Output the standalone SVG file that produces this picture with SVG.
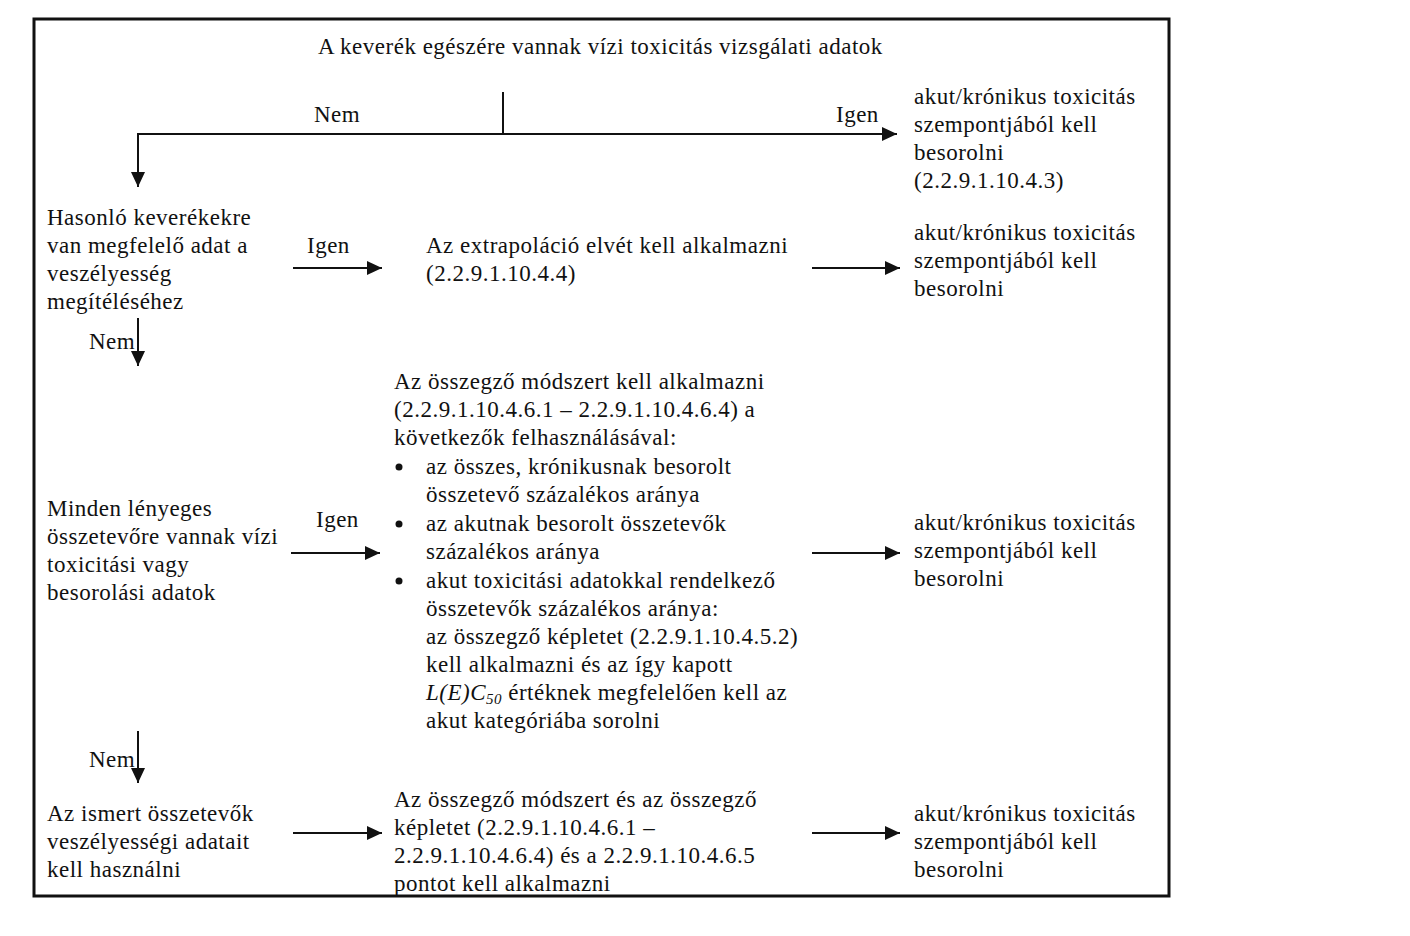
<svg xmlns="http://www.w3.org/2000/svg" width="1410" height="936" viewBox="0 0 1410 936">
<style>
text{font-family:"Liberation Serif","Times New Roman",serif;font-size:23px;letter-spacing:0.5px;fill:#111;}
.ln{stroke:#111;stroke-width:2;fill:none;}
.ar{stroke:#111;stroke-width:2;fill:none;marker-end:url(#ah);}
</style>
<defs>
<marker id="ah" markerWidth="9" markerHeight="8" refX="7.5" refY="3.5" orient="auto" markerUnits="strokeWidth">
<path d="M0,0 L7.5,3.5 L0,7 Z" fill="#111"/>
</marker>
</defs>
<rect x="34" y="19" width="1135" height="877" fill="#fff" stroke="#111" stroke-width="3"/>
<g id="connectors">
<line class="ln" x1="503" y1="92" x2="503" y2="134"/>
<line class="ln" x1="137" y1="134" x2="503" y2="134"/>
<line class="ar" x1="503" y1="134" x2="897" y2="134"/>
<line class="ar" x1="138" y1="134" x2="138" y2="187"/>
<line class="ar" x1="293" y1="268" x2="382" y2="268"/>
<line class="ar" x1="812" y1="268" x2="900" y2="268"/>
<line class="ar" x1="138" y1="318" x2="138" y2="366"/>
<line class="ar" x1="291" y1="553" x2="380" y2="553"/>
<line class="ar" x1="812" y1="553" x2="900" y2="553"/>
<line class="ar" x1="138" y1="731" x2="138" y2="783"/>
<line class="ar" x1="293" y1="833" x2="382" y2="833"/>
<line class="ar" x1="812" y1="833" x2="900" y2="833"/>
<text x="314" y="122">Nem</text>
<text x="836" y="122">Igen</text>
<text x="307" y="253">Igen</text>
<text x="89" y="349">Nem</text>
<text x="316" y="527">Igen</text>
<text x="89" y="767">Nem</text>
</g>
<g id="title"><text x="318" y="54">A keverék egészére vannak vízi toxicitás vizsgálati adatok</text></g>
<g id="r1-result">
<text x="914" y="104">akut/krónikus toxicitás</text>
<text x="914" y="132">szempontjából kell</text>
<text x="914" y="160">besorolni</text>
<text x="914" y="188">(2.2.9.1.10.4.3)</text>
</g>
<g id="q2">
<text x="47" y="225">Hasonló keverékekre</text>
<text x="47" y="253">van megfelelő adat a</text>
<text x="47" y="281">veszélyesség</text>
<text x="47" y="309">megítéléséhez</text>
</g>
<g id="a2">
<text x="426" y="253">Az extrapoláció elvét kell alkalmazni</text>
<text x="426" y="281">(2.2.9.1.10.4.4)</text>
</g>
<g id="r2">
<text x="914" y="240">akut/krónikus toxicitás</text>
<text x="914" y="268">szempontjából kell</text>
<text x="914" y="296">besorolni</text>
</g>
<g id="q3">
<text x="47" y="516">Minden lényeges</text>
<text x="47" y="544">összetevőre vannak vízi</text>
<text x="47" y="572">toxicitási vagy</text>
<text x="47" y="600">besorolási adatok</text>
</g>
<g id="a3">
<text x="394" y="389">Az összegző módszert kell alkalmazni</text>
<text x="394" y="417">(2.2.9.1.10.4.6.1 – 2.2.9.1.10.4.6.4) a</text>
<text x="394" y="445">következők felhasználásával:</text>
<circle cx="399" cy="467" r="3.5" fill="#111"/>
<text x="426" y="474">az összes, krónikusnak besorolt</text>
<text x="426" y="502">összetevő százalékos aránya</text>
<circle cx="399" cy="524" r="3.5" fill="#111"/>
<text x="426" y="531">az akutnak besorolt összetevők</text>
<text x="426" y="559">százalékos aránya</text>
<circle cx="399" cy="581" r="3.5" fill="#111"/>
<text x="426" y="588">akut toxicitási adatokkal rendelkező</text>
<text x="426" y="616">összetevők százalékos aránya:</text>
<text x="426" y="644">az összegző képletet (2.2.9.1.10.4.5.2)</text>
<text x="426" y="672">kell alkalmazni és az így kapott</text>
<text x="426" y="700"><tspan font-style="italic">L(E)C</tspan><tspan font-style="italic" font-size="15" dy="4">50</tspan><tspan dy="-4"> értéknek megfelelően kell az</tspan></text>
<text x="426" y="728">akut kategóriába sorolni</text>
</g>
<g id="r3">
<text x="914" y="530">akut/krónikus toxicitás</text>
<text x="914" y="558">szempontjából kell</text>
<text x="914" y="586">besorolni</text>
</g>
<g id="q4">
<text x="47" y="821">Az ismert összetevők</text>
<text x="47" y="849">veszélyességi adatait</text>
<text x="47" y="877">kell használni</text>
</g>
<g id="a4">
<text x="394" y="807">Az összegző módszert és az összegző</text>
<text x="394" y="835">képletet (2.2.9.1.10.4.6.1 –</text>
<text x="394" y="863">2.2.9.1.10.4.6.4) és a 2.2.9.1.10.4.6.5</text>
<text x="394" y="891">pontot kell alkalmazni</text>
</g>
<g id="r4">
<text x="914" y="821">akut/krónikus toxicitás</text>
<text x="914" y="849">szempontjából kell</text>
<text x="914" y="877">besorolni</text>
</g>
</svg>
